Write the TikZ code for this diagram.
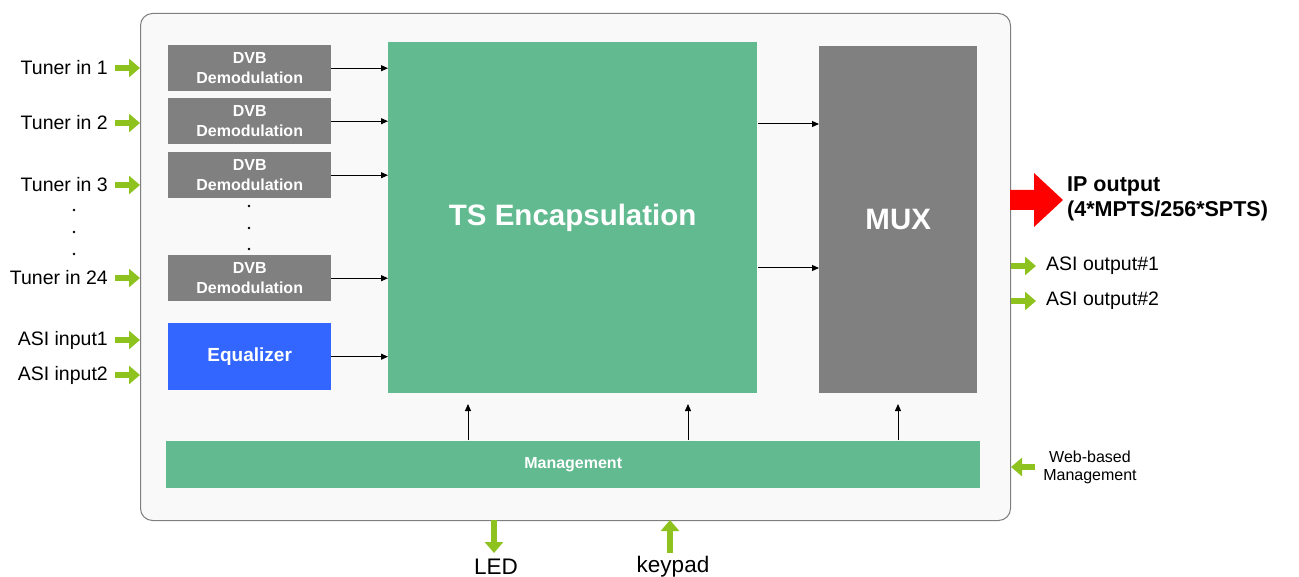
\documentclass[tikz,border=0pt]{standalone}
\usepackage{fontspec}
\setmainfont{Liberation Sans}
\usetikzlibrary{arrows.meta,calc}
\definecolor{boxgray}{HTML}{808080}
\definecolor{tsgreen}{HTML}{62BA90}
\definecolor{eqblue}{HTML}{3366FF}
\definecolor{ingreen}{HTML}{8DC21F}
\definecolor{outerfill}{HTML}{F9F9F9}
\definecolor{outerdraw}{HTML}{7F7F7F}
\tikzset{
  blk/.style={draw=none,inner sep=0pt,anchor=north west,align=center,text=white,font=\bfseries},
  dvb/.style={blk,fill=boxgray,minimum width=163pt,minimum height=46pt,font=\bfseries\fontsize{16}{20}\selectfont},
  lbl/.style={inner sep=0pt,font=\fontsize{19.5}{22}\selectfont},
  garrow/.style={ingreen,line width=6pt,-{Triangle[length=11pt,width=18pt]}},
  karrow/.style={black,line width=1pt,-{Triangle[length=7pt,width=6pt]}},
  dotn/.style={circle,fill=black,inner sep=0pt,minimum size=2.6pt}
}
\begin{document}
\begin{tikzpicture}[x=1pt,y=-1pt]
\useasboundingbox (0,0) rectangle (1299,577);
% main outer box
\node[draw=outerdraw,fill=outerfill,line width=1pt,rounded corners=12pt,anchor=north west,minimum width=870pt,minimum height=507pt,inner sep=0pt] (main) at (140,13) {};
% DVB blocks
\node[dvb] (d1) at (168,45) {DVB\\Demodulation};
\node[dvb] (d2) at (168,98) {DVB\\Demodulation};
\node[dvb] (d3) at (168,152) {DVB\\Demodulation};
\node[dvb] (d4) at (168,255) {DVB\\Demodulation};
\node[dotn] (dd1) at (249,206) {};
\node[dotn] (dd2) at (249,228) {};
\node[dotn] (dd3) at (249,249) {};
\node[blk,fill=eqblue,minimum width=163pt,minimum height=67pt,font=\bfseries\fontsize{19}{22}\selectfont] (eq) at (168,323) {Equalizer};
\node[blk,fill=tsgreen,minimum width=369pt,minimum height=351pt,font=\bfseries\fontsize{29.5}{32}\selectfont] (ts) at (388,42) {TS Encapsulation};
\node[blk,fill=boxgray,minimum width=158pt,minimum height=347pt,font=\bfseries\fontsize{29.5}{32}\selectfont] (mux) at (819,46) {MUX};
\node[blk,fill=tsgreen,minimum width=814pt,minimum height=47pt,font=\bfseries\fontsize{16}{18}\selectfont] (mg) at (166,441) {Management};
% internal arrows
\foreach \n in {d1,d2,d3,d4,eq} \draw[karrow] (\n.east) -- (\n.east -| ts.west);
\coordinate (m1) at (758,124);
\coordinate (m2) at (758,268);
\draw[karrow] (m1) -- (m1 -| mux.west);
\draw[karrow] (m2) -- (m2 -| mux.west);
\foreach \xx in {468,688} \draw[karrow] (\xx,440) -- (\xx,404);
\draw[karrow] (898,440) -- (898,404);
% input labels
\node[lbl,anchor=east] (t1) at (108,68) {Tuner in 1};
\node[lbl,anchor=east] (t2) at (108,123) {Tuner in 2};
\node[lbl,anchor=east] (t3) at (108,185) {Tuner in 3};
\node[lbl,anchor=east] (t24) at (108,278) {Tuner in 24};
\node[lbl,anchor=east] (a1) at (108,340) {ASI input1};
\node[lbl,anchor=east] (a2) at (108,375) {ASI input2};
\node[dotn] (ld1) at (74,210) {};
\node[dotn] (ld2) at (74,232) {};
\node[dotn] (ld3) at (74,254) {};
\foreach \n in {t1,t2,t3,t24,a1,a2} \draw[garrow] ($(\n.east)+(7,0)$) -- (\n.east -| main.west);
% right side
\path[fill=red] (1010,190) -- (1034,190) -- (1034,173) -- (1063,200) -- (1034,227) -- (1034,210) -- (1010,210) -- cycle;
\node[inner sep=0pt,anchor=west,align=left,font=\bfseries\fontsize{21.5}{25}\selectfont] (ip) at (1067,199) {IP output\\(4*MPTS/256*SPTS)};
\node[lbl,anchor=west] (o1) at (1046,266) {ASI output\#1};
\node[lbl,anchor=west] (o2) at (1046,301) {ASI output\#2};
\draw[garrow] (o1.west -| main.east) -- ($(o1.west)+(-10,0)$);
\draw[garrow] (o2.west -| main.east) -- ($(o2.west)+(-10,0)$);
\node[inner sep=0pt,align=center,font=\fontsize{16}{18}\selectfont] (web) at (1090,467) {Web-based\\Management};
\coordinate (wa) at (1035,467);
\draw[garrow] (wa) -- (wa -| main.east);
% bottom
\node[inner sep=0pt,font=\fontsize{22.5}{24}\selectfont] (led) at (496,567) {LED};
\node[inner sep=0pt,font=\fontsize{22.5}{24}\selectfont] (kp) at (673,567) {keypad};
\coordinate (la) at (494,520);
\coordinate (ka) at (670,520);
\draw[garrow] (la) -- (494,553);
\draw[garrow] (670,553) -- (ka);
\end{tikzpicture}
\end{document}
